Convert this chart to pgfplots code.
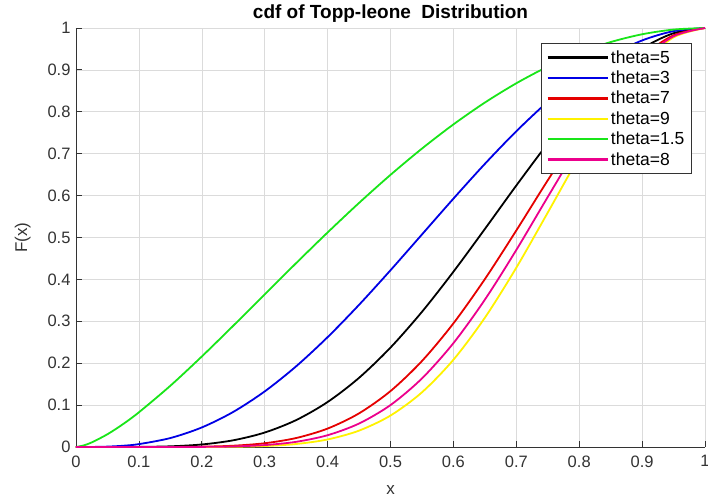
\documentclass[border=0pt]{standalone}
\usepackage{pgfplots}
\pgfplotsset{compat=1.18}
\usepackage{pgfplotstable}
\usepackage{fontspec}
\setmainfont{Liberation Sans}
\definecolor{tickgray}{gray}{0.2}
\definecolor{mgreen}{rgb}{0.1,0.9,0.1}
\pgfplotstableread{
x t15 t3 t5 t7 t8 t9
0 0 0 0 0 0 0
0.0125 0.003916 0.0000153 0 0 0 0
0.025 0.010971 0.00012 0.0000003 0 0 0
0.05 0.030444 0.000927 0.0000088 0 0 0
0.075 0.054858 0.003009 0.0000627 0.0000013 0 0
0.1 0.082819 0.006859 0.000248 0.0000089 0.0000017 0.0000003
0.15 0.146182 0.021369 0.001646 0.000127 0.000035 0.0000098
0.2 0.216 0.046656 0.006047 0.000784 0.000282 0.000102
0.25 0.28938 0.08374 0.016028 0.003068 0.001342 0.000587
0.3 0.36421 0.132651 0.034503 0.008974 0.004577 0.002334
0.35 0.43886 0.1926 0.064234 0.021422 0.012371 0.007145
0.4 0.512 0.262144 0.107374 0.04398 0.028147 0.018014
0.45 0.58252 0.339338 0.16509 0.080317 0.056021 0.039075
0.5 0.649519 0.421875 0.237305 0.133484 0.100113 0.075085
0.55 0.71219 0.507215 0.322592 0.20517 0.163623 0.130489
0.6 0.769873 0.592704 0.418212 0.29509 0.247876 0.208216
0.65 0.822 0.67568 0.520278 0.400617 0.351542 0.308478
0.7 0.868085 0.753571 0.624032 0.516761 0.470253 0.42793
0.75 0.90773 0.823975 0.724196 0.636501 0.59672 0.559425
0.8 0.940604 0.884736 0.815373 0.751447 0.72139 0.692534
0.85 0.966441 0.934007 0.892449 0.852741 0.833554 0.814799
0.9 0.985037 0.970299 0.95099 0.932065 0.922745 0.913517
0.95 0.996252 0.992519 0.987562 0.982631 0.980174 0.977723
1 1 1 1 1 1 1
}\data
\begin{document}
\begin{tikzpicture}
\useasboundingbox (-76pt,-56pt) rectangle (632pt,447pt);
\begin{axis}[
  at={(0,0)}, anchor=south west,
  scale only axis, width=629pt, height=419pt,
  xmin=0, xmax=1, ymin=0, ymax=1,
  xtick={0,0.1,...,1.01}, ytick={0,0.1,...,1.01},
  xticklabels={0,0.1,0.2,0.3,0.4,0.5,0.6,0.7,0.8,0.9,1},
  yticklabels={0,0.1,0.2,0.3,0.4,0.5,0.6,0.7,0.8,0.9,1},
  axis x line*=bottom, axis y line*=left,
  axis line style={tickgray, line width=0.8pt, -},
  tick style={tickgray, line width=0.8pt},
  tick align=inside, major tick length=6pt,
  grid=major, grid style={gray!28, line width=0.6pt},
  ticklabel style={font=\fontsize{16.5}{18}\selectfont, text=tickgray},
  xticklabel style={yshift=-5pt},
  yticklabel style={xshift=-2pt},
  title={\bfseries cdf of Topp-leone\ \ Distribution},
  title style={font=\fontsize{19}{22}\selectfont, yshift=-4pt},
  xlabel={x}, ylabel={F(x)},
  label style={font=\fontsize{17}{20}\selectfont, text=tickgray},
  xlabel style={yshift=-11pt},
  ylabel style={yshift=10pt},
  legend style={at={(0.979,0.964)}, anchor=north east, draw=tickgray, line width=0.8pt,
    nodes={font=\fontsize{17.5}{20}\selectfont, inner sep=2pt}, row sep=2.2pt,
    inner xsep=5pt, inner ysep=5pt},
  legend cell align=left,
  legend image code/.code={\draw[#1, line width=2.4pt] (0pt,0pt) -- (60pt,0pt);},
  every axis plot/.append style={line width=1.8pt, smooth},
]
\addplot[black] table[x=x,y=t5] {\data};
\addlegendentry{theta=5}
\addplot[blue!90!black] table[x=x,y=t3] {\data};
\addlegendentry{theta=3}
\addplot[red!90!black] table[x=x,y=t7] {\data};
\addlegendentry{theta=7}
\addplot[yellow] table[x=x,y=t9] {\data};
\addlegendentry{theta=9}
\addplot[mgreen] table[x=x,y=t15] {\data};
\addlegendentry{theta=1.5}
\addplot[magenta] table[x=x,y=t8] {\data};
\addlegendentry{theta=8}
\end{axis}
\end{tikzpicture}
\end{document}
